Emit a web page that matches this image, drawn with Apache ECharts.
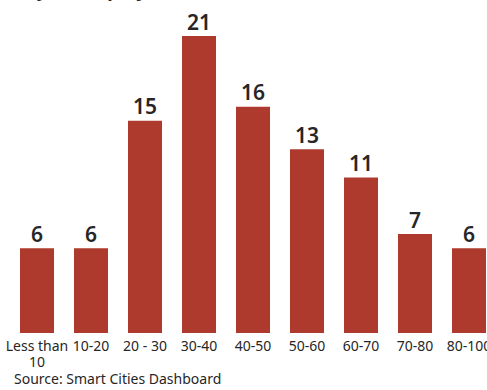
<!DOCTYPE html>
<html>
<head>
<meta charset="utf-8">
<script src="https://cdn.jsdelivr.net/npm/echarts@6/dist/echarts.min.js"></script>
<style>
  html, body { margin: 0; padding: 0; background: #fff; overflow: hidden; }
  #chart { width: 497px; height: 390px; }
</style>
</head>
<body>
<div id="chart"></div>
<script>
// ─── data ───
const categories = ['Less than\n10', '10-20', '20 - 30', '30-40', '40-50', '50-60', '60-70', '70-80', '80-100'];
const projects = [6, 6, 15, 21, 16, 13, 11, 7, 6];

const BAR = '#ad3a2d';
const TEXT = '#262626';
const FONT = "'Noto Sans', sans-serif";

const chart = echarts.init(document.getElementById('chart'), null, { renderer: 'svg' });

chart.setOption({
  backgroundColor: '#ffffff',
  animation: false,
  grid: { left: 10, width: 486, top: 36, bottom: 57 },
  xAxis: {
    type: 'category',
    data: categories,
    axisLine: { show: false },
    axisTick: { show: false },
    axisLabel: {
      interval: 0,
      margin: 4,
      fontFamily: FONT,
      fontSize: 14,
      lineHeight: 16,
      color: TEXT,
    },
  },
  yAxis: { type: 'value', min: 0, max: 21, show: false },
  series: [{
    type: 'bar',
    data: projects,
    barWidth: 34,
    itemStyle: { color: BAR },
    label: {
      show: true,
      position: 'top',
      distance: 4,
      fontFamily: FONT,
      fontSize: 21,
      fontWeight: 600,
      color: TEXT,
    },
  }],
  graphic: [
    {
      type: 'text',
      right: 497 - 186,
      top: -19,
      style: { text: 'Cities (by no. of projects)', font: "bold 18px 'Noto Sans', sans-serif", fill: TEXT },
    },
    {
      type: 'text',
      left: 14,
      top: 371,
      style: { text: 'Source: Smart Cities Dashboard', font: "14px 'Noto Sans', sans-serif", fill: TEXT },
    },
  ],
});
</script>
</body>
</html>
